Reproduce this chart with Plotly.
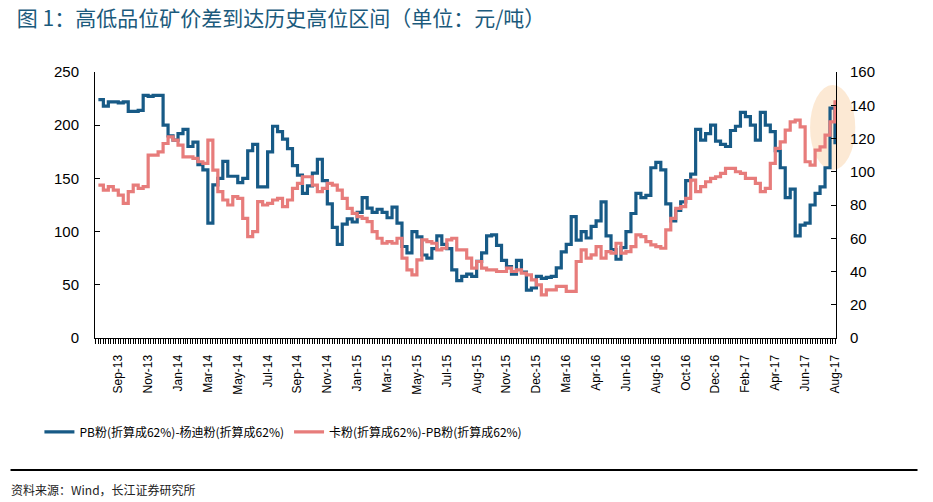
import plotly.graph_objects as go

# Tick labels for the category (weekly) x axis
tick_labels = ["Sep-13", "Nov-13", "Jan-14", "Mar-14", "May-14", "Jul-14", "Sep-14",
               "Nov-14", "Jan-15", "Mar-15", "May-15", "Jul-15", "Aug-15", "Nov-15",
               "Dec-15", "Mar-16", "Apr-16", "Jun-16", "Aug-16", "Oct-16", "Dec-16",
               "Feb-17", "Apr-17", "Jun-17", "Aug-17"]
label_every = 6
label_offset = 4

# PB粉-杨迪粉 spread (left axis, 元/吨)
pb_yandi = [224, 218, 222, 222, 221, 222, 213, 213, 214, 228,
            227, 228, 228, 200, 190, 186, 192, 196, 180, 184,
            163, 158, 108, 144, 150, 166, 152, 152, 146, 150,
            176, 182, 142, 142, 175, 199, 194, 187, 178, 162,
            153, 136, 143, 155, 168, 148, 126, 104, 88, 107,
            112, 109, 118, 132, 122, 118, 121, 118, 113, 123,
            108, 86, 80, 100, 95, 78, 75, 84, 96, 88,
            84, 64, 54, 58, 60, 58, 72, 80, 96, 97,
            87, 73, 67, 60, 73, 62, 45, 47, 58, 56,
            57, 58, 66, 81, 88, 114, 92, 100, 94, 105,
            110, 128, 96, 83, 74, 85, 100, 117, 136, 132,
            134, 160, 165, 158, 126, 110, 120, 128, 148, 154,
            196, 186, 192, 200, 185, 182, 180, 195, 199, 212,
            208, 200, 186, 212, 200, 194, 176, 160, 132, 140,
            96, 106, 108, 125, 136, 142, 160, 216, 182]

# 卡粉-PB粉 spread (right axis, 元/吨)
carajas_pb = [92, 89, 91, 89, 86, 81, 88, 92, 90, 91,
              110, 110, 112, 117, 121, 119, 116, 109, 109, 108,
              106, 105, 119, 101, 88, 83, 80, 85, 84, 72,
              61, 64, 82, 80, 81, 83, 84, 79, 83, 90,
              93, 97, 97, 92, 88, 90, 93, 92, 89, 84,
              78, 75, 73, 72, 70, 64, 60, 57, 58, 57,
              60, 48, 41, 38, 47, 59, 58, 57, 53, 54,
              59, 60, 53, 53, 48, 42, 46, 42, 41, 41,
              40, 40, 42, 40, 41, 39, 38, 35, 32, 26,
              29, 29, 31, 31, 28, 28, 46, 53, 48, 50,
              55, 48, 52, 51, 57, 51, 52, 55, 62, 61,
              58, 56, 55, 54, 65, 72, 78, 79, 84, 95,
              88, 91, 94, 96, 97, 99, 102, 102, 100, 99,
              96, 96, 93, 88, 90, 105, 114, 118, 125, 130,
              131, 127, 106, 104, 113, 115, 122, 130, 143]

series_names = ["PB粉(折算成62%)-杨迪粉(折算成62%)", "卡粉(折算成62%)-PB粉(折算成62%)"]
title_text = "图 1：高低品位矿价差到达历史高位区间（单位：元/吨）"
source_text = "资料来源：Wind，长江证券研究所"

x = list(range(len(pb_yandi)))
tickvals = [label_offset + label_every * k for k in range(len(tick_labels))]

BLUE = "#175a86"
PINK = "#e77c7b"
CJK = "Noto Sans CJK SC"
LAT = "Liberation Sans"

fig = go.Figure()
fig.add_trace(go.Scatter(x=x, y=pb_yandi, name=series_names[0], mode="lines",
                         line=dict(color=BLUE, width=3.2, shape="hv"), yaxis="y"))
fig.add_trace(go.Scatter(x=x, y=carajas_pb, name=series_names[1], mode="lines",
                         line=dict(color=PINK, width=3.2, shape="hv"), yaxis="y2"))

# highlight ellipse around the latest high (extends past the right axis)
fig.add_shape(type="circle", xref="paper", yref="paper", x0=0.965, x1=1.026,
              y0=0.632, y1=0.951,
              fillcolor="rgba(250,212,170,0.5)", line=dict(width=0), layer="below")

# footer rule
fig.add_shape(type="line", xref="paper", yref="paper", x0=-0.114, x1=1.11,
              y0=-0.496, y1=-0.496, line=dict(color="black", width=2))

fig.add_annotation(text=source_text, xref="paper", yref="paper", x=-0.116, y=-0.571,
                   xanchor="left", yanchor="middle", showarrow=False,
                   font=dict(family=CJK, size=12, color="#222222"))

fig.update_layout(
    width=933, height=502,
    margin=dict(l=95, r=97, t=72, b=164),
    paper_bgcolor="white", plot_bgcolor="white",
    title=dict(text=title_text, x=0.018, xref="container", xanchor="left",
               y=0.962, yref="container", yanchor="middle",
               font=dict(family=CJK, size=21, color="#1b5a7c")),
    xaxis=dict(range=[-0.68, 148.2], tickmode="array", tickvals=tickvals,
               ticktext=tick_labels, tickangle=-90, showgrid=False, zeroline=False,
               showline=True, linecolor="black", linewidth=1,
               ticks="outside", ticklen=5, tickcolor="black",
               minor=dict(ticks="outside", dtick=0.5, tick0=0, ticklen=5,
                          tickcolor="black", tickwidth=1),
               tickfont=dict(family=LAT, size=12, color="black"),
               ticklabelstandoff=6),
    yaxis=dict(range=[0, 250], dtick=50, showgrid=False, zeroline=False,
               showline=True, linecolor="black", linewidth=1,
               ticks="inside", ticklen=5, tickcolor="black",
               tickfont=dict(family=LAT, size=15, color="black"),
               ticklabelstandoff=12),
    yaxis2=dict(range=[0, 160], dtick=20, overlaying="y", side="right",
                showgrid=False, zeroline=False,
                showline=True, linecolor="black", linewidth=1,
                ticks="inside", ticklen=5, tickcolor="black",
                tickfont=dict(family=LAT, size=15, color="black"),
                ticklabelstandoff=10),
    legend=dict(orientation="h", x=-0.075, xanchor="left", y=-0.353, yanchor="middle",
                font=dict(family=CJK, size=12, color="black"),
                bgcolor="rgba(0,0,0,0)", itemwidth=30, tracegroupgap=0),
    showlegend=True,
)

fig.write_html("out.html")
